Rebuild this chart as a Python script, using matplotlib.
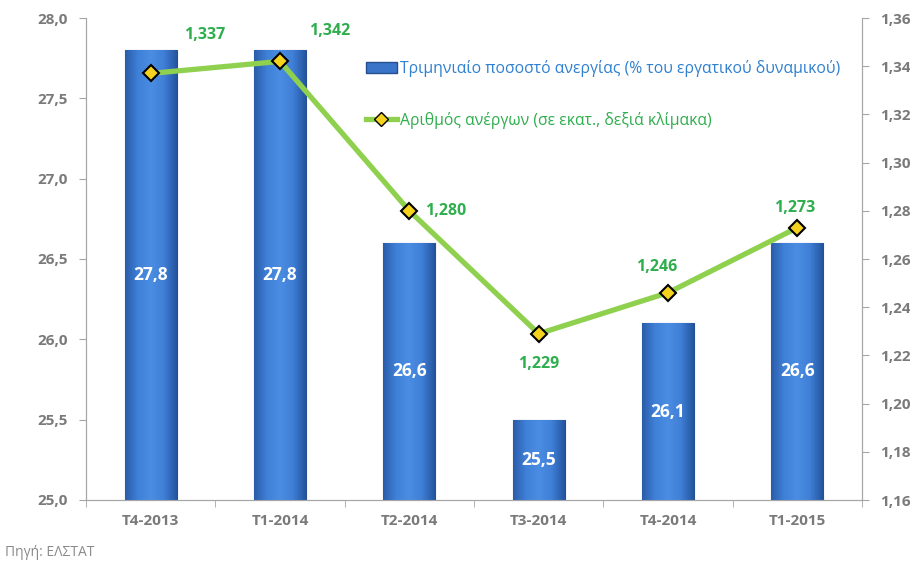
import matplotlib

matplotlib.use("Agg")
import matplotlib.pyplot as plt
import numpy as np
from matplotlib.colors import LinearSegmentedColormap
from matplotlib.lines import Line2D
from matplotlib.patches import Patch
from matplotlib.ticker import FuncFormatter, MultipleLocator

plt.rcParams["font.family"] = ["Open Sans", "DejaVu Sans"]

# Data
quarters = ["T4-2013", "T1-2014", "T2-2014", "T3-2014", "T4-2014", "T1-2015"]
rate = [27.8, 27.8, 26.6, 25.5, 26.1, 26.6]
unemployed = [1.337, 1.342, 1.280, 1.229, 1.246, 1.273]
# label offsets (pixels) for the line values
label_dx = [54, 50, 36, 0, -11, -3]
label_dy = [38, 30, 0, -30, 26, 20]

bar_label = "Τριμηνιαίο ποσοστό ανεργίας (% του εργατικού δυναμικού)"
line_label = "Αριθμός ανέργων (σε εκατ., δεξιά κλίμακα)"

GREY = "#7a7a7a"
AXIS = "#a6a6a6"
BLUE_TXT = "#2f80d0"
GREEN_TXT = "#2fae4e"
LINE_GREEN = "#8fd14f"

fig = plt.figure(figsize=(9.1, 5.65), dpi=100)
ax = fig.add_axes([86 / 910, 1 - 500 / 565, 776 / 910, 482 / 565])
ax2 = ax.twinx()

x = np.arange(len(quarters))
bars = ax.bar(x, [r - 25.0 for r in rate], bottom=25.0, width=0.4,
              color="#3a74c8", edgecolor="#254f91", linewidth=0.8, zorder=2)

# horizontal gradient inside each bar
cmap = LinearSegmentedColormap.from_list(
    "bar", ["#2a5ca8", "#3f80d8", "#4b8de2", "#3f7fd6", "#24559f"])
grad = np.linspace(0, 1, 256).reshape(1, -1)
for b in bars:
    bx, by = b.get_x(), b.get_y()
    im = ax.imshow(grad, cmap=cmap, aspect="auto", zorder=3,
                   extent=[bx, bx + b.get_width(), by, by + b.get_height()])
    im.set_clip_path(b)
    ax.text(bx + b.get_width() / 2, by + b.get_height() / 2,
            f"{by + b.get_height():.1f}".replace(".", ","),
            ha="center", va="center", color="white", fontsize=12.5,
            fontweight="bold", zorder=4)

ax.set_xlim(-0.5, len(quarters) - 0.5)
ax.set_ylim(25.0, 28.0)
ax.yaxis.set_major_locator(MultipleLocator(0.5))
ax.yaxis.set_major_formatter(FuncFormatter(lambda v, p: f"{v:.1f}".replace(".", ",")))
ax.set_xticks(x)
ax.set_xticklabels(quarters)
ax.set_xticks(np.arange(-0.5, len(quarters)), minor=True)
ax.tick_params(axis="x", which="major", length=0, pad=10)
ax.tick_params(axis="x", which="minor", length=5, color=AXIS, direction="out")

ax2.plot(x, unemployed, color=LINE_GREEN, lw=3.8, zorder=5,
         marker="D", markersize=8, markerfacecolor="#f4d21e",
         markeredgecolor="black", markeredgewidth=1.5)
ax2.set_ylim(1.16, 1.36)
ax2.yaxis.set_major_locator(MultipleLocator(0.02))
ax2.yaxis.set_major_formatter(FuncFormatter(lambda v, p: f"{v:.2f}".replace(".", ",")))

for xi, v, dx, dy in zip(x, unemployed, label_dx, label_dy):
    ax2.annotate(f"{v:.3f}".replace(".", ","), (xi, v), xytext=(dx, dy),
                 textcoords="offset pixels", ha="center", va="center",
                 color=GREEN_TXT, fontsize=11.5, fontweight="bold")

for a in (ax, ax2):
    a.spines["top"].set_visible(False)
    for side in ("left", "right", "bottom"):
        a.spines[side].set_color(AXIS)
    a.tick_params(axis="y", length=5, color=AXIS, labelcolor=GREY, labelsize=11)
    a.tick_params(axis="x", labelcolor=GREY, labelsize=11)
    for lbl in a.get_yticklabels() + a.get_xticklabels():
        lbl.set_fontweight("bold")
ax.tick_params(axis="y", pad=8)
ax2.tick_params(axis="y", pad=8)

handles = [Patch(facecolor="#3a74c8", edgecolor="#254f91"),
           Line2D([], [], color=LINE_GREEN, lw=3.8, marker="D", markersize=7,
                  markerfacecolor="#f4d21e", markeredgecolor="black")]
leg = ax2.legend(handles, [bar_label, line_label], loc="upper left",
                 bbox_to_anchor=(0.342, 0.943), frameon=False, fontsize=11.3,
                 handlelength=2.0, handletextpad=0.2, labelspacing=2.25)
for t, c in zip(leg.get_texts(), [BLUE_TXT, GREEN_TXT]):
    t.set_color(c)

fig.text(5 / 910, 1 - 553 / 565, "Πηγή: ΕΛΣΤΑΤ", color="#8a8a8a",
         fontsize=10, ha="left", va="center")

fig.savefig("out.png", dpi=100)
